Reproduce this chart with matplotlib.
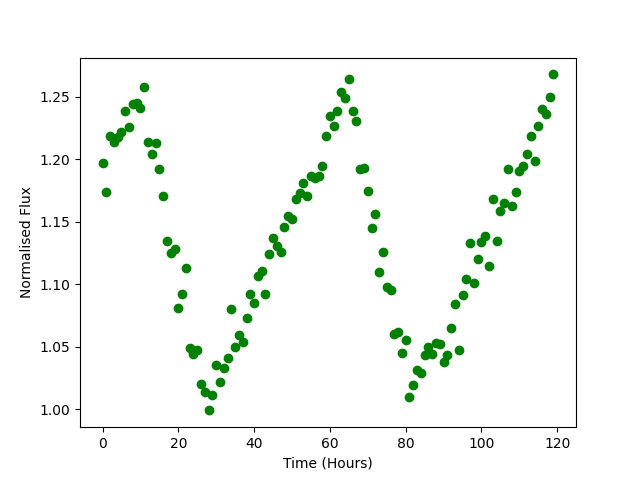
import matplotlib
matplotlib.use("Agg")
import matplotlib.pyplot as plt
import numpy as np

time_hours = list(range(120))
flux = [
    1.197, 1.174, 1.219, 1.214, 1.218, 1.222, 1.239, 1.226, 1.244, 1.245,
    1.241, 1.258, 1.214, 1.204, 1.213, 1.192, 1.171, 1.135, 1.125, 1.128,
    1.081, 1.092, 1.113, 1.049, 1.044, 1.047, 1.020, 1.014, 0.999, 1.011,
    1.035, 1.022, 1.033, 1.041, 1.080, 1.050, 1.059, 1.054, 1.073, 1.092,
    1.085, 1.107, 1.111, 1.092, 1.124, 1.137, 1.131, 1.126, 1.146, 1.155,
    1.152, 1.168, 1.173, 1.181, 1.171, 1.187, 1.185, 1.187, 1.195, 1.219,
    1.235, 1.227, 1.239, 1.254, 1.249, 1.264, 1.239, 1.231, 1.192, 1.193,
    1.175, 1.145, 1.156, 1.110, 1.126, 1.098, 1.095, 1.060, 1.062, 1.045,
    1.055, 1.010, 1.019, 1.031, 1.029, 1.043, 1.050, 1.044, 1.053, 1.052,
    1.038, 1.043, 1.065, 1.084, 1.047, 1.091, 1.104, 1.133, 1.101, 1.120,
    1.134, 1.139, 1.115, 1.168, 1.135, 1.159, 1.165, 1.192, 1.163, 1.174,
    1.191, 1.195, 1.204, 1.219, 1.199, 1.227, 1.240, 1.236, 1.250, 1.268,
]

fig, ax = plt.subplots(figsize=(6.4, 4.8), dpi=100)
ax.plot(time_hours, flux, 'o', color='green')
ax.set_xlabel('Time (Hours)')
ax.set_ylabel('Normalised Flux')
fig.savefig('out.png')
